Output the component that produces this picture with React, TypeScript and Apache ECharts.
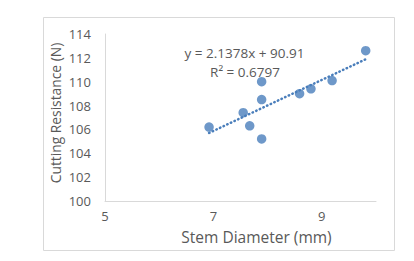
import React, { useEffect, useRef } from "react";
import * as echarts from "echarts";

const stemDiameter = [6.92, 7.55, 7.67, 7.89, 7.89, 7.89, 8.59, 8.8, 9.19, 9.81];
const cuttingResistance = [106.2, 107.4, 106.3, 110.0, 108.5, 105.2, 109.0, 109.4, 110.1, 112.6];
const slope = 2.1378;
const intercept = 90.91;
const trendRange = [6.92, 9.81];
const equationText = "y = 2.1378x + 90.91";
const r2Text = "R² = 0.6797";
const xTitle = "Stem Diameter (mm)";
const yTitle = "Cutting Resistance (N)";

const FONT = "'Open Sans', sans-serif";
const TEXT = "#595959";
const BLUE = "#4A7EBB";

export default function App() {
  const ref = useRef<HTMLDivElement>(null);
  useEffect(() => {
    document.body.style.margin = "0";
    const chart = echarts.init(ref.current!, null, { renderer: "svg" });
    const trend = trendRange.map((x) => [x, slope * x + intercept]);
    chart.setOption({
      animation: false,
      backgroundColor: "#ffffff",
      grid: { left: 105, right: 38, top: 34, bottom: 60 },
      xAxis: {
        type: "value",
        min: 5,
        max: 10,
        interval: 2,
        axisLine: { show: true, lineStyle: { color: "#d9d9d9", width: 1 } },
        axisTick: { show: false },
        splitLine: { show: false },
        axisLabel: { color: TEXT, fontSize: 13, fontFamily: FONT, margin: 8, showMaxLabel: false },
      },
      yAxis: {
        type: "value",
        min: 100,
        max: 114,
        interval: 2,
        axisLine: { show: true, lineStyle: { color: "#d9d9d9", width: 1 } },
        axisTick: { show: false },
        splitLine: { show: false },
        axisLabel: { color: TEXT, fontSize: 13, fontFamily: FONT, margin: 14 },
      },
      graphic: [
        {
          type: "rect",
          shape: { x: 43.5, y: 17.5, width: 351, height: 233 },
          style: { fill: "none", stroke: "#d9d9d9", lineWidth: 1 },
          silent: true,
          z: -1,
        },
        {
          type: "text",
          x: 256.5,
          y: 237,
          style: { text: xTitle, fill: TEXT, fontSize: 15.5, fontFamily: FONT, align: "center", verticalAlign: "middle" },
        },
        {
          type: "text",
          x: 55,
          y: 113,
          rotation: Math.PI / 2,
          style: { text: yTitle, fill: TEXT, fontSize: 13.8, fontFamily: FONT, align: "center", verticalAlign: "middle" },
        },
        {
          type: "text",
          x: 244.5,
          y: 53,
          style: { text: equationText, fill: TEXT, fontSize: 13.5, fontFamily: FONT, align: "center", verticalAlign: "middle" },
        },
        {
          type: "text",
          x: 245,
          y: 72,
          style: { text: r2Text, fill: TEXT, fontSize: 13.5, fontFamily: FONT, align: "center", verticalAlign: "middle" },
        },
      ],
      series: [
        {
          type: "line",
          data: trend,
          symbol: "none",
          lineStyle: { color: BLUE, width: 2.5, type: [0.5, 3.5], cap: "round" },
          z: 1,
        },
        {
          type: "scatter",
          data: stemDiameter.map((x, i) => [x, cuttingResistance[i]]),
          symbolSize: 9.5,
          itemStyle: { color: BLUE },
          z: 2,
        },
      ],
    });
    return () => chart.dispose();
  }, []);
  return <div ref={ref} style={{ width: 414, height: 261 }} />;
}
